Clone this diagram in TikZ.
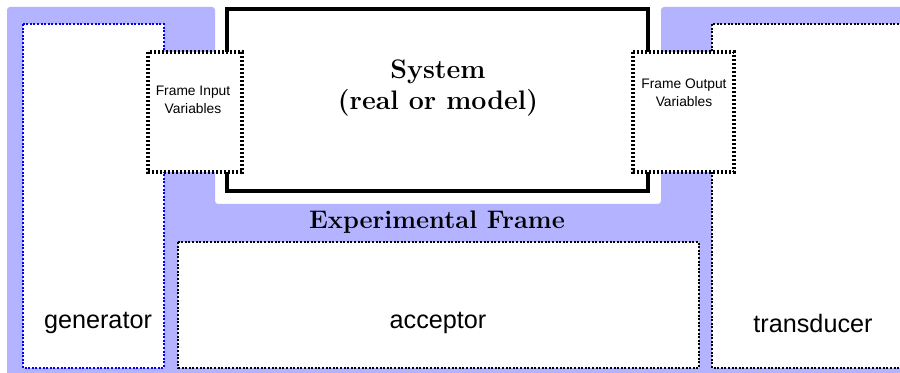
\documentclass[tikz,border=0pt]{standalone}
\usepackage{fontspec}
\newfontfamily\helv{Liberation Sans}
\definecolor{framebl}{RGB}{179,179,255}
\begin{document}
\begin{tikzpicture}[x=0.5pt, y=-0.5pt,
	dotbox/.style={line width=1pt, dash pattern=on 1pt off 0.8pt, fill=white},
	varbox/.style={line width=1.7pt, dash pattern=on 1.1pt off 0.9pt, fill=white},
	lbl/.style={font=\helv\fontsize{12.6}{15}\selectfont},
	smalllbl/.style={font=\helv\fontsize{6.9}{9}\selectfont, align=center}]
	\useasboundingbox (0,0) rectangle (900,373); % Rand um Grafik
	\clip (0,0) rectangle (900,373);
	
	% Experimental Frame (blaue Flaeche)
	\fill[framebl, rounded corners=1.5pt] (7,380) -- (7,7) -- (215,7) -- (215,204) -- (661,204) -- (661,7) -- (910,7) -- (910,380) -- cycle;
	
	\draw[dotbox, draw=blue] (23,24) rectangle (164,368); %generator
	\draw[dotbox] (178,242) rectangle (699,368); %acceptor
	\draw[dotbox] (712,24) rectangle (915,368); %transducer
	
	\draw[line width=1.8pt, fill=white] (227,9) rectangle (648,191); %System
	
	\draw[varbox] (148,52) rectangle (242,172); %Eingaenge
	\draw[varbox] (633,52) rectangle (734,172); %Ausgaenge
	
	\node[font=\bfseries\fontsize{13.4}{15.5}\selectfont, align=center] (system) at (438,88) {System\\(real or model)};
	\node[font=\bfseries\fontsize{12.7}{14}\selectfont] (expframe) at (437,222) {Experimental Frame};
	
	\node[smalllbl] (inputvars) at (193,100) {Frame Input\\Variables};
	\node[smalllbl] (outputvars) at (684,93) {Frame Output\\Variables};
	
	\node[lbl] (generator) at (98,323) {generator};
	\node[lbl] (acceptor) at (438,323) {acceptor};
	\node[lbl] (transducer) at (813,323) {transducer};
	
	%\draw[help lines, step=50] (0,0) grid (900,373);
\end{tikzpicture}
\end{document}
